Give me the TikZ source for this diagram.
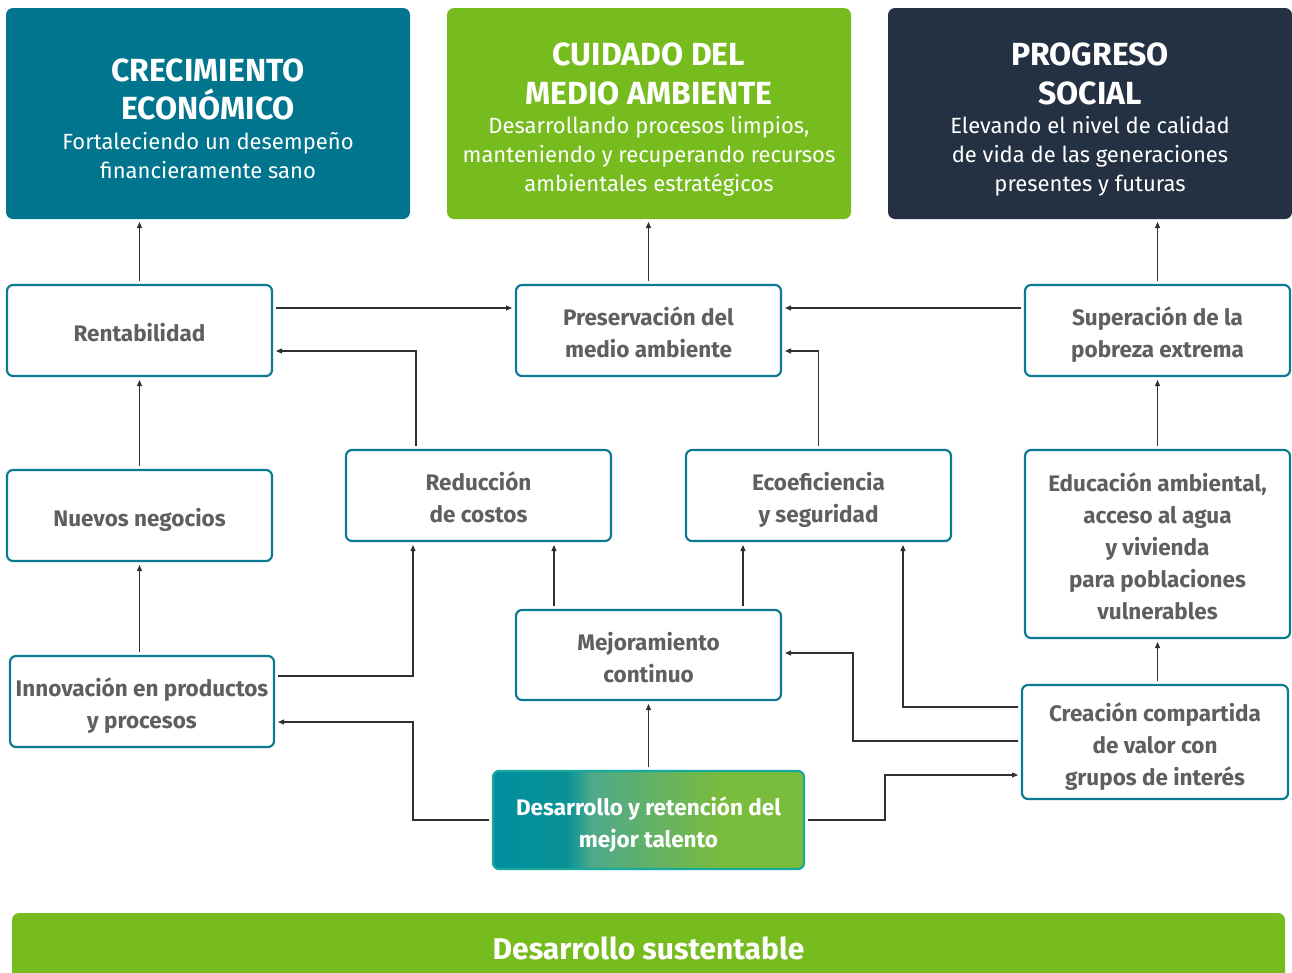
\documentclass[tikz,border=0pt]{standalone}
\usepackage{fontspec}
\setmainfont{Fira Sans}
\usetikzlibrary{arrows.meta}
\definecolor{teal1}{HTML}{00758D}
\definecolor{green1}{HTML}{77BC1F}
\definecolor{navy1}{HTML}{243142}
\definecolor{bord}{HTML}{0E7A91}
\definecolor{txtg}{HTML}{5E5F61}
\definecolor{arrc}{HTML}{303030}
\definecolor{gradL}{HTML}{008E9F}
\definecolor{gradM}{HTML}{4FA98A}
\definecolor{gradR}{HTML}{7ABC3C}
\definecolor{gbord}{HTML}{19A89C}
\pgfdeclarehorizontalshading{talentshade}{100bp}{color(0bp)=(gradL); color(25bp)=(gradL); color(37bp)=(gradL!92!gradR); color(41bp)=(gradM); color(62bp)=(gradR); color(100bp)=(gradR)}
\tikzset{
  topbox/.style={rounded corners=7pt, minimum width=404pt, minimum height=211pt, text=white, align=center, inner sep=0pt, outer sep=3pt, font=\fontsize{22}{29}\selectfont},
  midbox/.style={draw=bord, line width=2.2pt, rounded corners=6pt, fill=white, minimum width=265pt, minimum height=91pt, text=txtg, align=center, font=\bfseries\fontsize{22.5}{32}\selectfont, outer sep=4pt, text depth=2pt},
  arr/.style={draw=arrc, line width=1.1pt, -{Triangle[length=6pt,width=5pt]}},
}
\newcommand{\ttlf}{\bfseries\fontsize{32}{38}\selectfont}
\newcommand{\tup}{\rule{0pt}{33pt}}
\newcommand{\tupb}{\rule{0pt}{34pt}}
\newcommand{\mup}{\rule{0pt}{24pt}}
\begin{document}
\begin{tikzpicture}[x=1pt,y=-1pt]
\useasboundingbox (0,0) rectangle (1292,972);
% top boxes
\node[topbox, fill=teal1] (A) at (208,113.5) {\tup{\ttlf CRECIMIENTO}\\[6pt] {\ttlf ECONÓMICO}\\[1pt] Fortaleciendo un desempeño\\ financieramente sano};
\node[topbox, fill=green1] (B) at (649,113.5) {\tupb{\ttlf CUIDADO DEL}\\[10pt] {\ttlf MEDIO AMBIENTE}\\[0pt] Desarrollando procesos limpios,\\ manteniendo y recuperando recursos\\ ambientales estratégicos};
\node[topbox, fill=navy1] (C) at (1090,113.5) {\tupb{\ttlf PROGRESO}\\[10pt] {\ttlf SOCIAL}\\[0pt] Elevando el nivel de calidad\\ de vida de las generaciones\\ presentes y futuras};
% middle boxes
\node[midbox] (rent) at (139.5,330.5) {\mup Rentabilidad};
\node[midbox] (pres) at (648.5,330.5) {\mup Preservación del\\ medio ambiente};
\node[midbox] (sup) at (1157.5,330.5) {\mup Superación de la\\ pobreza extrema};
\node[midbox] (nue) at (139.5,515.5) {\mup Nuevos negocios};
\node[midbox] (red) at (478.5,495.5) {\mup Reducción\\ de costos};
\node[midbox] (eco) at (818.5,495.5) {\mup Ecoeficiencia\\ y seguridad};
\node[midbox, minimum height=188pt] (edu) at (1157.5,544) {\mup Educación ambiental,\\ acceso al agua\\ y vivienda\\ para poblaciones\\ vulnerables};
\node[midbox, minimum height=90pt] (mej) at (648.5,655) {\mup Mejoramiento\\ continuo};
\node[midbox, minimum width=264pt] (inn) at (142,701.5) {\mup Innovación en productos\\ y procesos};
\node[midbox, minimum width=266pt, minimum height=114pt] (cre) at (1155,742) {\mup Creación compartida\\ de valor con\\ grupos de interés};
\node[midbox, draw=gbord, shading=talentshade, text=white, minimum width=311pt, minimum height=98pt] (tal) at (648.5,820) {\mup Desarrollo y retención del\\ mejor talento};
% bottom bar
\begin{scope}
\clip (0,0) rectangle (1292,972);
\fill[green1, rounded corners=7pt] (12,913) rectangle (1285,1000);
\end{scope}
\node[text=white, font=\bfseries\fontsize{30}{36}\selectfont, inner sep=0pt] (ds) at (648.5,948) {Desarrollo sustentable};
% arrows
\draw[arr] (rent.north) -- (rent.north |- A.south);
\draw[arr] (pres.north) -- (pres.north |- B.south);
\draw[arr] (sup.north) -- (sup.north |- C.south);
\draw[arr] ([yshift=22.5pt]rent.east) -- ([yshift=22.5pt]pres.west);
\draw[arr] ([yshift=22.5pt]sup.west) -- ([yshift=22.5pt]pres.east);
\draw[arr] ([xshift=-62.5pt]red.north) |- ([yshift=-20.5pt]rent.east);
\draw[arr] (eco.north) |- ([yshift=-20.5pt]pres.east);
\draw[arr] (nue.north) -- (rent.south);
\draw[arr] (edu.north) -- (sup.south);
\draw[arr] ([xshift=-2.5pt]inn.north) -- (nue.south);
\draw[arr] ([yshift=25.5pt]inn.east) -| ([xshift=-65.5pt]red.south);
\draw[arr] ([xshift=-94.5pt]mej.north) -- ([xshift=75.5pt]red.south);
\draw[arr] ([xshift=94.5pt]mej.north) -- ([xshift=-75.5pt]eco.south);
\draw[arr] ([yshift=35pt]cre.west) -| ([xshift=84.5pt]eco.south);
\draw[arr] ([yshift=1pt]cre.west) -- (853,741) |- ([yshift=2pt]mej.east);
\draw[arr] ([xshift=2.5pt]cre.north) -- ([xshift=0pt]edu.south);
\draw[arr] (tal.north) -- (mej.south);
\draw[arr] (tal.west) -- (413,820) |- ([yshift=-20.5pt]inn.east);
\draw[arr] (tal.east) -- (885,820) |- ([yshift=-33pt]cre.west);
\end{tikzpicture}
\end{document}
